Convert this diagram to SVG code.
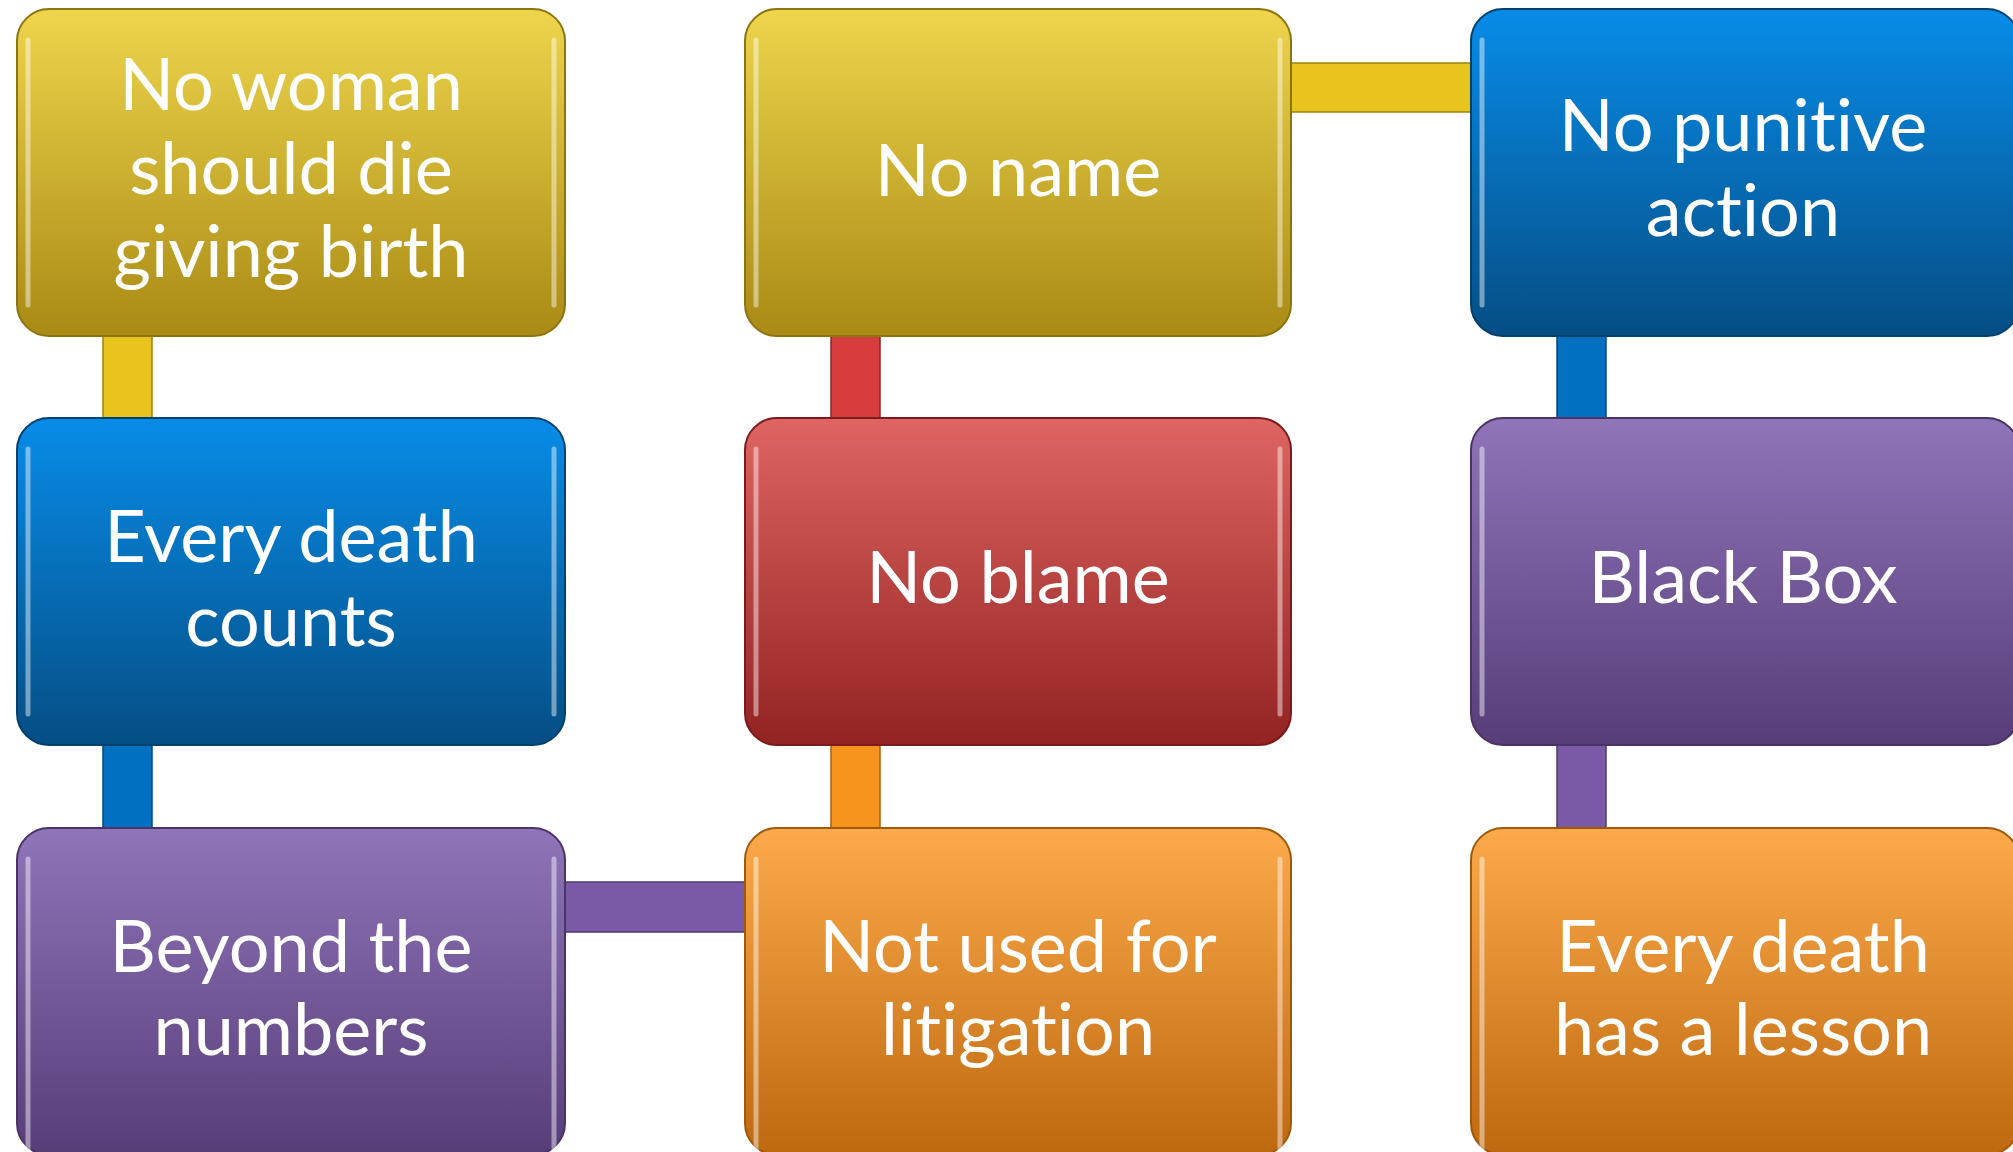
<svg xmlns="http://www.w3.org/2000/svg" width="2013" height="1152" viewBox="0 0 2013 1152">
<defs>
<linearGradient id="gY" x1="0" y1="0" x2="0" y2="1"><stop offset="0" stop-color="#EED54C"/><stop offset="1" stop-color="#A98A15"/></linearGradient>
<linearGradient id="gB" x1="0" y1="0" x2="0" y2="1"><stop offset="0" stop-color="#088CE8"/><stop offset="1" stop-color="#054E84"/></linearGradient>
<linearGradient id="gR" x1="0" y1="0" x2="0" y2="1"><stop offset="0" stop-color="#DE6562"/><stop offset="1" stop-color="#922322"/></linearGradient>
<linearGradient id="gP" x1="0" y1="0" x2="0" y2="1"><stop offset="0" stop-color="#8F75B9"/><stop offset="1" stop-color="#573D78"/></linearGradient>
<linearGradient id="gO" x1="0" y1="0" x2="0" y2="1"><stop offset="0" stop-color="#FCAA4B"/><stop offset="1" stop-color="#BE680F"/></linearGradient>
</defs>
<style>
.box{stroke-width:2}
.hl{fill:none;stroke:#FFFFFF;stroke-opacity:0.45;stroke-width:5;stroke-linecap:round}
.t{font-family:Lato,"Open Sans","Liberation Sans",sans-serif;font-size:72px;fill:#FFFFFF;text-anchor:middle;font-variant-ligatures:none;font-feature-settings:"liga" 0}
.c{stroke-width:1.5}
</style>
<g id="connectors">
<rect class="c" x="103" y="330" width="49" height="94" fill="#E8C41F" stroke="#9C8210"/>
<rect class="c" x="103" y="740" width="49" height="94" fill="#0070C0" stroke="#004A80"/>
<rect class="c" x="560" y="882" width="190" height="50" fill="#7A5AA6" stroke="#4E3A70"/>
<rect class="c" x="831" y="330" width="49" height="94" fill="#D63E3E" stroke="#8E2626"/>
<rect class="c" x="831" y="740" width="49" height="94" fill="#F7941E" stroke="#A86210"/>
<rect class="c" x="1286" y="63" width="190" height="49" fill="#E8C41F" stroke="#9C8210"/>
<rect class="c" x="1557" y="330" width="49" height="94" fill="#0070C0" stroke="#004A80"/>
<rect class="c" x="1557" y="740" width="49" height="94" fill="#7A5AA6" stroke="#4E3A70"/>
</g>
<g id="n1"><rect class="box" x="17" y="9" width="548" height="327" rx="32" fill="url(#gY)" stroke="#8C7410"/><path class="hl" d="M28 40V305M554 40V305"/>
<text class="t" x="291" y="110">No woman</text><text class="t" x="291" y="194">should die</text><text class="t" x="291" y="277">giving birth</text></g>
<g id="n2"><rect class="box" x="745" y="9" width="546" height="327" rx="32" fill="url(#gY)" stroke="#8C7410"/><path class="hl" d="M756 40V305M1280 40V305"/>
<text class="t" x="1018" y="196">No name</text></g>
<g id="n3"><rect class="box" x="1471" y="9" width="548" height="327" rx="32" fill="url(#gB)" stroke="#03406C"/><path class="hl" d="M1482 40V305"/>
<text class="t" x="1743" y="151">No punitive</text><text class="t" x="1743" y="236">action</text></g>
<g id="n4"><rect class="box" x="17" y="418" width="548" height="327" rx="32" fill="url(#gB)" stroke="#03406C"/><path class="hl" d="M28 449V714M554 449V714"/>
<text class="t" x="291" y="562">Every death</text><text class="t" x="291" y="646">counts</text></g>
<g id="n5"><rect class="box" x="745" y="418" width="546" height="327" rx="32" fill="url(#gR)" stroke="#7A1C1C"/><path class="hl" d="M756 449V714M1280 449V714"/>
<text class="t" x="1018" y="603">No blame</text></g>
<g id="n6"><rect class="box" x="1471" y="418" width="548" height="327" rx="32" fill="url(#gP)" stroke="#4A3366"/><path class="hl" d="M1482 449V714"/>
<text class="t" x="1743" y="603">Black Box</text></g>
<g id="n7"><rect class="box" x="17" y="828" width="548" height="327" rx="32" fill="url(#gP)" stroke="#4A3366"/><path class="hl" d="M28 859V1150M554 859V1150"/>
<text class="t" x="291" y="972">Beyond the</text><text class="t" x="291" y="1055">numbers</text></g>
<g id="n8"><rect class="box" x="745" y="828" width="546" height="327" rx="32" fill="url(#gO)" stroke="#A0580C"/><path class="hl" d="M756 859V1150M1280 859V1150"/>
<text class="t" x="1018" y="972">Not used for</text><text class="t" x="1018" y="1055">litigation</text></g>
<g id="n9"><rect class="box" x="1471" y="828" width="548" height="327" rx="32" fill="url(#gO)" stroke="#A0580C"/><path class="hl" d="M1482 859V1150"/>
<text class="t" x="1743" y="972">Every death</text><text class="t" x="1743" y="1055">has a lesson</text></g>
</svg>
